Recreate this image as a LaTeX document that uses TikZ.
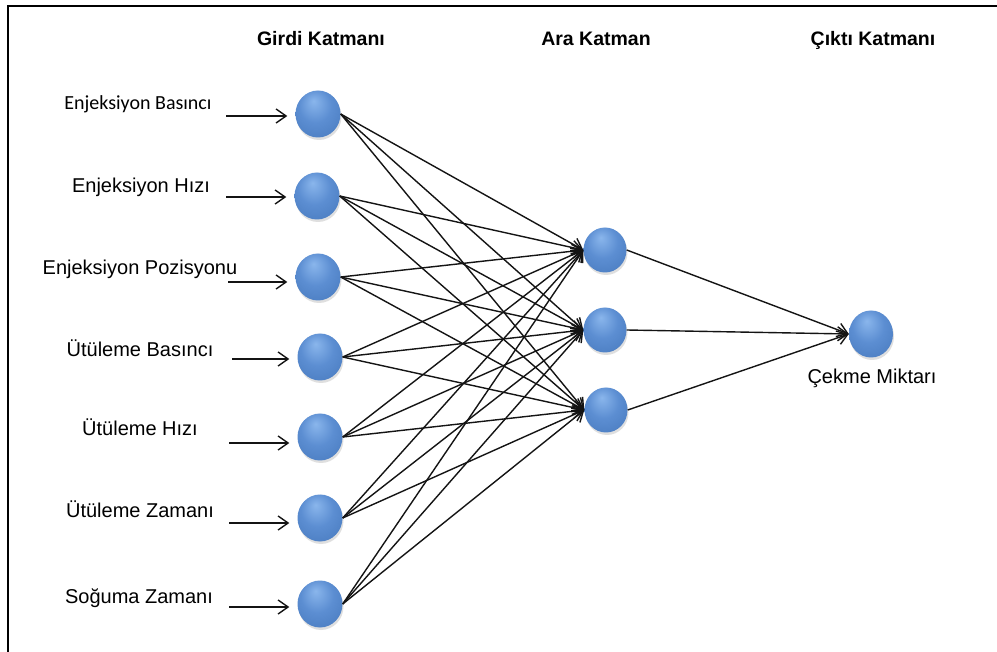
\documentclass[tikz,border=0pt]{standalone}
\usepackage{fontspec}
\setmainfont{Liberation Sans}
\newfontfamily\softsans{Carlito}
\usetikzlibrary{arrows.meta,shapes.geometric,shadows}

% sphere colours
\definecolor{orbhi}{HTML}{8AB6EC}
\definecolor{orbmid}{HTML}{5C8ED2}
\definecolor{orblo}{HTML}{4A7CC0}
\definecolor{orbrim}{HTML}{3B69A8}
\definecolor{wire}{HTML}{141414}

\pgfdeclareradialshading{orb}{\pgfpoint{-5bp}{14bp}}{%
  color(0bp)=(orbhi); color(18bp)=(orbmid); color(36bp)=(orblo); color(50bp)=(orbrim)}

\tikzset{
  neuron/.style={ellipse, minimum width=45pt, minimum height=47pt, inner sep=0pt,
    shading=orb, drop shadow={opacity=0.25, shadow xshift=1pt, shadow yshift=-2.5pt}},
  hiddenunit/.style={neuron, minimum width=43pt, minimum height=45pt},
  outunit/.style={neuron, minimum width=44pt, minimum height=47pt},
  link/.style={draw=wire, line width=1.4pt, -{Straight Barb[length=10pt,width=14pt,line width=1.4pt]}},
  feed/.style={link, shorten >=8pt},
  layertitle/.style={anchor=base, font=\bfseries\fontsize{19.5}{22}\selectfont},
  inlabel/.style={anchor=base, font=\fontsize{20}{24}\selectfont},
}

\begin{document}
\begin{tikzpicture}[x=1pt,y=-1pt]
  \useasboundingbox (0,0) rectangle (997,652);
  \fill[white] (0,0) rectangle (997,652);

  % outer frame
  \draw[line width=2.2pt] (8,652) -- (8,6) -- (997,6);

  % layer titles
  \node[layertitle] (tin)  at (321,46) {Girdi Katmanı};
  \node[layertitle] (thid) at (596,46) {Ara Katman};
  \node[layertitle] (tout) at (873,46) {Çıktı Katmanı};

  % input units
  \node[neuron] (i1) at (318,114) {};
  \node[neuron] (i2) at (317,196) {};
  \node[neuron] (i3) at (318,277) {};
  \node[neuron] (i4) at (320,357) {};
  \node[neuron] (i5) at (320,437) {};
  \node[neuron] (i6) at (320,518) {};
  \node[neuron] (i7) at (320,604) {};

  % hidden units
  \node[hiddenunit] (h1) at (605,250) {};
  \node[hiddenunit] (h2) at (605,330) {};
  \node[hiddenunit] (h3) at (606,410) {};

  % output unit
  \node[outunit] (o) at (871,334) {};

  % input labels
  \node[inlabel] (l1) at (138,110) {\softsans Enjeksiyon Basıncı};
  \node[inlabel] (l2) at (141,193) {Enjeksiyon Hızı};
  \node[inlabel] (l3) at (140,275) {Enjeksiyon Pozisyonu};
  \node[inlabel] (l4) at (140,357) {Ütüleme Basıncı};
  \node[inlabel] (l5) at (140,436) {Ütüleme Hızı};
  \node[inlabel] (l6) at (140,518) {Ütüleme Zamanı};
  \node[inlabel] (l7) at (139,603) {Soğuma Zamanı};
  \node[inlabel] (lo) at (872,384) {Çekme Miktarı};

  % feed arrows into the input units
  \coordinate (a1) at (226,116);
  \coordinate (a2) at (226,197);
  \coordinate (a3) at (228,282);
  \coordinate (a4) at (232,359);
  \coordinate (a5) at (229,443);
  \coordinate (a6) at (229,523);
  \coordinate (a7) at (229,607);
  \foreach \k in {1,...,7}
    \draw[feed] (a\k) -- (a\k -| i\k.west);

  % input -> hidden connections
  \foreach \k in {1,...,7}
    \foreach \j in {1,2,3}
      \draw[link] (i\k.east) -- (h\j.west);

  % hidden -> output connections
  \foreach \j in {1,2,3}
    \draw[link] (h\j.east) -- (o.west);
\end{tikzpicture}
\end{document}
